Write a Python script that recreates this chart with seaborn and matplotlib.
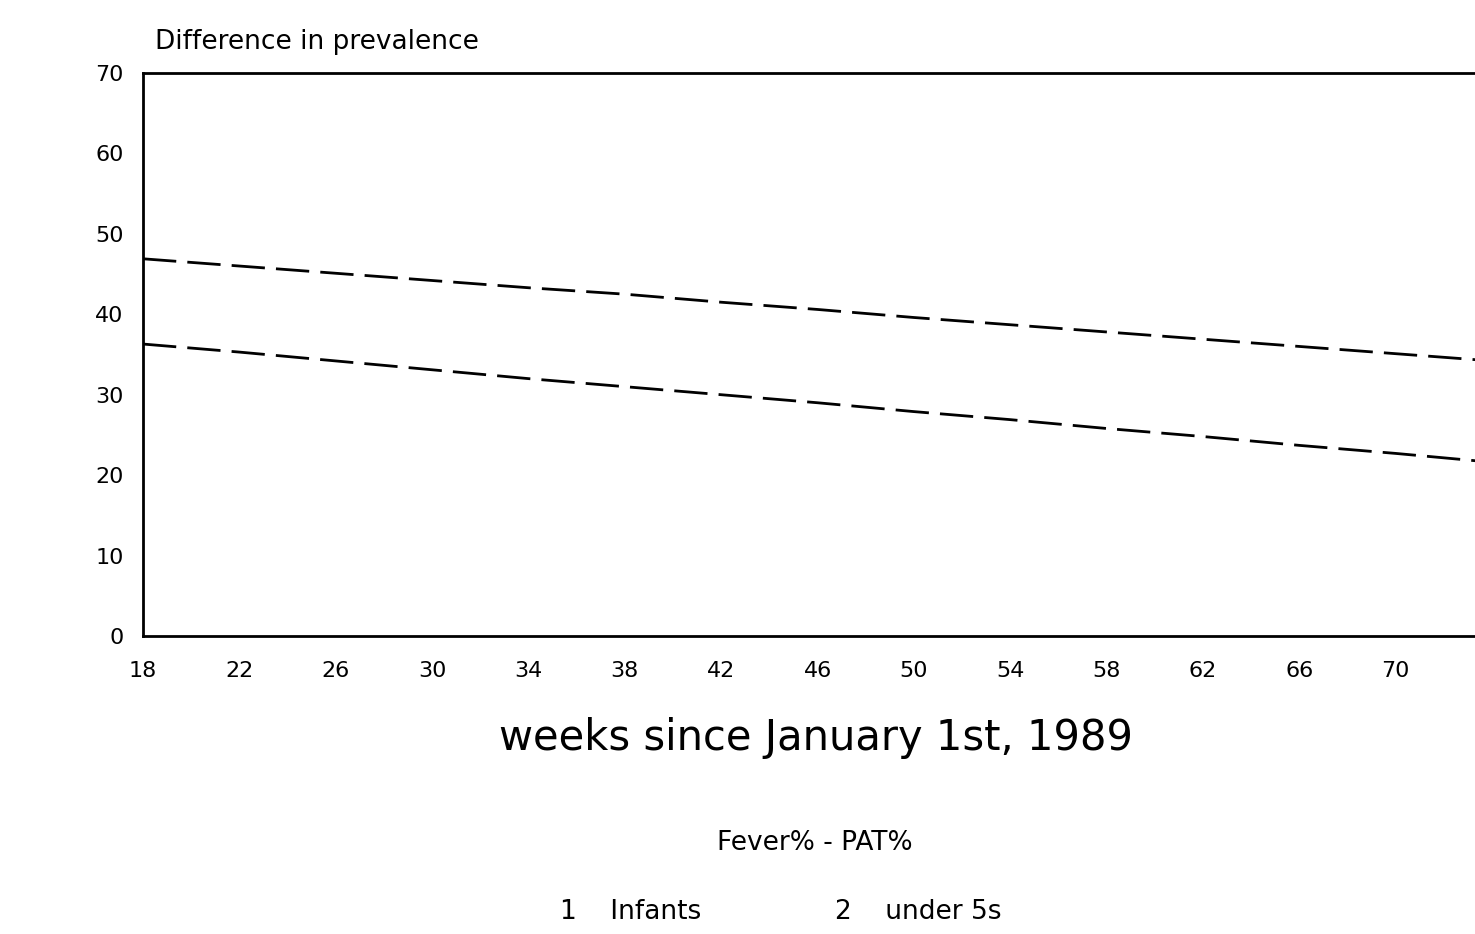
import pandas as pd
import matplotlib.pyplot as plt
import seaborn as sns

# values (difference in prevalence, Fever% - PAT%)
weeks = [18, 22, 26, 30, 34, 38, 42, 46, 50, 54, 58, 62, 66, 70, 74]
infants = [46.9, 46.0, 45.1, 44.2, 43.3, 42.5, 41.5, 40.6, 39.6, 38.7, 37.8, 36.9, 36.0, 35.1, 34.2]
under5s = [36.3, 35.3, 34.2, 33.1, 32.0, 31.0, 30.0, 29.0, 27.9, 26.9, 25.8, 24.8, 23.7, 22.7, 21.6]
xticks = [18, 22, 26, 30, 34, 38, 42, 46, 50, 54, 58, 62, 66, 70]
yticks = [0, 10, 20, 30, 40, 50, 60, 70]

df = pd.DataFrame({
    "week": weeks * 2,
    "diff": infants + under5s,
    "group": ["Infants"] * len(weeks) + ["under 5s"] * len(weeks),
})

sns.set_style("white")
plt.rcParams["font.family"] = ["DejaVu Sans"]
plt.rcParams["text.color"] = "black"
plt.rcParams["axes.labelcolor"] = "black"
plt.rcParams["xtick.color"] = "black"
plt.rcParams["ytick.color"] = "black"

fig = plt.figure(figsize=(14.75, 9.34), dpi=100)
ax = fig.add_axes([143 / 1475, 1 - 636 / 934, 1.01 - 143 / 1475, (636 - 73) / 934])

sns.lineplot(data=df, x="week", y="diff", hue="group", palette=["black", "black"],
             linewidth=2.0, legend=False, ax=ax)
for line in ax.get_lines():
    line.set_dashes((12, 4))

ax.set_xlim(18, 73.9)
ax.set_ylim(0, 70)
ax.set_xticks(xticks)
ax.set_yticks(yticks)
ax.tick_params(length=0, labelsize=16, pad=18)
ax.tick_params(axis="y", pad=14)
ax.set_xlabel("weeks since January 1st, 1989", fontsize=30, labelpad=26)
ax.set_ylabel("")
for s in ax.spines.values():
    s.set_color("black")
    s.set_linewidth(2)

fig.text(155 / 1475, 1 - 42 / 934, "Difference in prevalence", fontsize=19, va="center", ha="left")
fig.text(815 / 1475, 1 - 843 / 934, "Fever% - PAT%", fontsize=19, va="center", ha="center")
fig.text(560 / 1475, 1 - 912 / 934, "1    Infants", fontsize=19, va="center", ha="left")
fig.text(835 / 1475, 1 - 912 / 934, "2    under 5s", fontsize=19, va="center", ha="left")

plt.savefig("out.png", dpi=100)
